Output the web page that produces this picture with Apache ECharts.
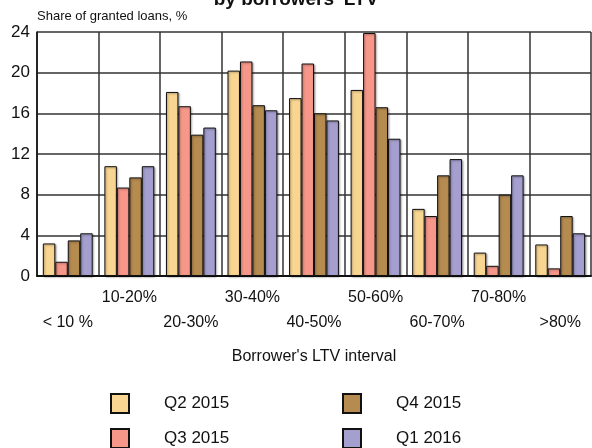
<!DOCTYPE html>
<html>
<head>
  <meta charset="utf-8">
  <title>Share of granted loans by borrowers' LTV</title>
  <script src="https://cdn.jsdelivr.net/npm/echarts@6/dist/echarts.min.js"></script>
  <style>
    html, body { margin: 0; padding: 0; background: #fff; }
    #chart { width: 592px; height: 448px; }
  </style>
</head>
<body>
  <div id="chart"></div>
  <script>
    var FONT = "'Liberation Sans', Arial, sans-serif";

    // LTV intervals
    var categories = ['< 10 %', '10-20%', '20-30%', '30-40%', '40-50%', '50-60%', '60-70%', '70-80%', '>80%'];
    var yTicks = [0, 4, 8, 12, 16, 20, 24];

    // values, % of granted loans
    var q2_2015 = [3.2, 10.8, 18.1, 20.2, 17.5, 18.3, 6.6, 2.3, 3.1];
    var q3_2015 = [1.4, 8.7, 16.7, 21.1, 20.9, 23.9, 5.9, 1.0, 0.75];
    var q4_2015 = [3.5, 9.7, 13.9, 16.8, 16.0, 16.6, 9.9, 8.0, 5.9];
    var q1_2016 = [4.2, 10.8, 14.6, 16.3, 15.3, 13.5, 11.5, 9.9, 4.2];

    var seriesNames = ['Q2 2015', 'Q3 2015', 'Q4 2015', 'Q1 2016'];
    var seriesData = [q2_2015, q3_2015, q4_2015, q1_2016];
    var colors = ['#f9d592', '#f7978a', '#b58b50', '#a59fcf'];

    var series = seriesNames.map(function (name, i) {
      return {
        name: name,
        type: 'bar',
        data: seriesData[i],
        barGap: '0%',
        barCategoryGap: '19%',
        itemStyle: {
          color: colors[i],
          borderColor: '#111',
          borderWidth: 1,
          shadowColor: 'rgba(0,0,0,0.35)',
          shadowBlur: 2,
          shadowOffsetX: 1,
          shadowOffsetY: 1
        }
      };
    });

    function legendAt(name, left, top) {
      return {
        data: [name],
        left: left,
        top: top,
        padding: 0,
        orient: 'horizontal',
        icon: 'rect',
        itemWidth: 18,
        itemHeight: 19,
        selectedMode: false,
        textStyle: { fontFamily: FONT, fontSize: 17, color: '#111', padding: [0, 0, 0, 30] }
      };
    }

    var chart = echarts.init(document.getElementById('chart'));
    chart.setOption({
      animation: false,
      grid: { left: 37, top: 32, right: 1, bottom: 172, containLabel: false },
      graphic: [
        {
          type: 'text',
          left: 'center',
          top: -10,
          style: { text: "by borrowers' LTV", font: "bold 19px " + FONT, fill: '#111' }
        },
        {
          type: 'text',
          left: 37,
          top: 10,
          style: { text: 'Share of granted loans, %', font: "13px " + FONT, fill: '#111' }
        }
      ],
      legend: [
        legendAt('Q2 2015', 110, 393),
        legendAt('Q4 2015', 342, 393),
        legendAt('Q3 2015', 110, 428),
        legendAt('Q1 2016', 342, 428)
      ],
      xAxis: {
        type: 'category',
        data: categories,
        name: "Borrower's LTV interval",
        nameLocation: 'middle',
        nameGap: 73,
        nameTextStyle: { fontFamily: FONT, fontSize: 16, color: '#111' },
        axisLine: { lineStyle: { color: '#111', width: 2 } },
        axisTick: { show: false },
        splitLine: { show: true, interval: 0, lineStyle: { color: '#333', width: 1.5 } },
        axisLabel: {
          interval: 0,
          margin: 9,
          fontFamily: FONT,
          fontSize: 16,
          lineHeight: 25,
          color: '#111',
          formatter: function (v, i) { return i % 2 ? v : '\n' + v; }
        }
      },
      yAxis: {
        type: 'value',
        min: yTicks[0],
        max: yTicks[yTicks.length - 1],
        interval: 4,
        axisLine: { show: true, lineStyle: { color: '#111', width: 1.5 } },
        axisTick: { show: false },
        splitLine: { lineStyle: { color: '#333', width: 1.5 } },
        axisLabel: { fontFamily: FONT, fontSize: 17, color: '#111', margin: 7 }
      },
      series: series
    });
  </script>
</body>
</html>
